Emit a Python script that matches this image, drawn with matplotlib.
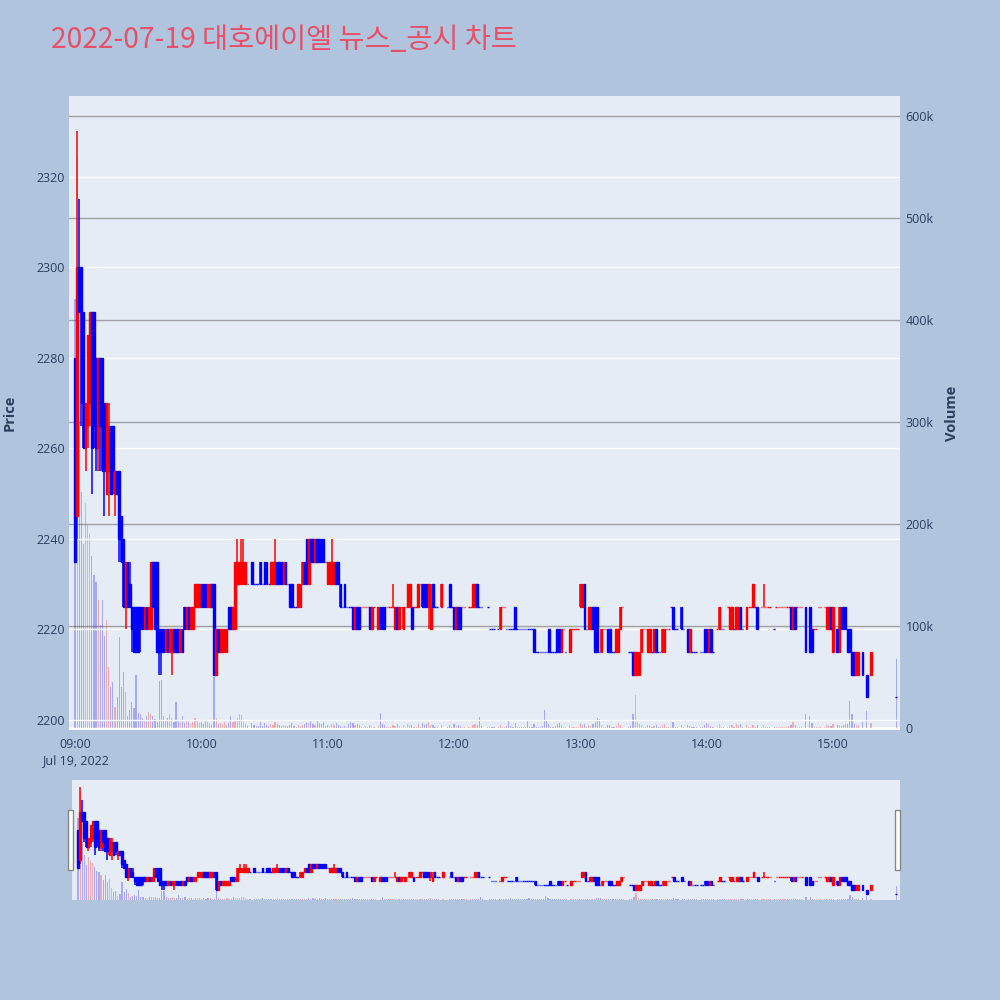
import numpy as np
import pandas as pd
import matplotlib
matplotlib.use("Agg")
import matplotlib.pyplot as plt
import matplotlib.dates as mdates
from matplotlib.patches import Rectangle

n = np.nan

# 1-minute OHLC for 2022-07-19 (09:00 .. 15:18, then the 15:30 closing auction)
opens = [
    2280, 2245, 2300, 2300, 2290, 2260, 2265, 2270, 2290, 2290,
    2280, 2260, 2280, 2280, 2270, 2250, 2255, 2265, 2265, 2250,
    2255, 2255, 2245, 2240, 2225, 2235, 2230, 2225, 2225, 2225,
    2225, 2225, 2225, 2220, 2225, 2220, 2220, 2235, 2235, 2235,
    2220, 2220, 2220, 2215, 2220, 2215, 2215, 2220, 2220, 2220,
    2215, 2220, 2225, 2220, 2225, 2220, 2220, 2225, 2225, 2225,
    2230, 2230, 2230, 2225, 2225, 2230, 2230, 2210, 2220, 2215,
    2215, 2215, 2215, 2225, 2225, 2220, 2220, 2230, 2230, 2230,
    2230, 2230, 2230, n, 2235, 2230, 2230, 2230, 2235, 2230,
    2235, 2235, 2230, 2230, 2230, 2230, 2235, 2235, 2235, 2230,
    2235, 2230, 2230, 2230, 2225, 2225, 2225, 2225, 2230, 2235,
    2240, 2230, 2240, 2240, 2235, 2240, 2240, 2240, 2240, 2235,
    2230, 2230, 2230, 2230, 2235, 2235, 2230, 2225, 2230, 2225,
    2225, 2225, 2225, 2220, 2225, 2225, 2225, 2225, 2225, 2225,
    2225, 2220, 2225, n, 2220, 2225, 2225, 2225, 2225, 2225,
    2225, 2225, 2220, 2225, 2220, 2225, 2220, 2225, 2225, 2225,
    2225, 2225, 2225, 2225, 2230, 2230, 2230, 2230, 2225, 2220,
    2230, 2225, 2225, n, 2225, n, n, 2225, 2230, 2225,
    2225, 2220, 2225, 2225, 2225, 2225, n, 2225, 2225, 2225,
    2225, 2230, 2225, 2225, n, n, 2225, 2220, 2220, 2220,
    n, 2220, 2220, 2225, 2225, 2220, 2220, 2220, 2220, 2225,
    2220, 2220, 2220, 2220, 2220, 2220, 2220, 2220, 2220, 2215,
    2215, 2215, 2215, 2215, 2215, 2220, 2215, 2215, 2215, 2220,
    2220, 2215, 2220, 2215, n, 2215, 2220, 2220, 2220, 2220,
    2225, 2225, 2230, 2220, 2220, 2220, 2225, 2225, 2225, 2215,
    2215, 2220, 2220, 2220, 2220, 2215, 2215, 2215, 2215, 2220,
    2225, n, n, 2215, 2215, 2215, 2210, 2210, 2210, 2215,
    2220, 2220, 2215, 2215, 2215, 2215, 2220, 2215, 2215, 2215,
    2215, 2220, 2220, 2225, 2225, 2220, 2220, n, 2225, 2220,
    n, 2220, 2215, 2215, 2215, 2215, n, 2215, 2215, 2220,
    2220, 2215, 2220, 2215, n, 2220, 2220, 2220, 2220, n,
    2225, 2220, 2220, 2220, 2220, 2220, 2225, 2220, n, 2220,
    2225, 2225, 2225, 2225, 2225, n, 2225, 2225, 2225, 2225,
    2225, n, 2220, 2225, 2225, 2225, 2225, 2225, 2225, 2225,
    2225, 2220, 2225, 2225, 2225, 2225, n, 2225, n, 2225,
    2220, 2220, 2220, 2225, 2225, n, 2225, 2220, 2220, 2225,
    2215, n, 2220, 2215, 2225, 2225, 2225, 2220, 2220, 2215,
    2215, 2210, 2210, n, 2215, n, 2210, n, 2210,
    2205,
]
highs = [
    2280, 2330, 2315, 2300, 2290, 2270, 2285, 2290, 2290, 2290,
    2280, 2280, 2280, 2280, 2270, 2270, 2270, 2265, 2265, 2255,
    2255, 2255, 2245, 2240, 2235, 2235, 2235, 2225, 2225, 2225,
    2225, 2225, 2225, 2225, 2225, 2225, 2235, 2235, 2235, 2235,
    2220, 2220, 2220, 2220, 2220, 2220, 2220, 2220, 2220, 2220,
    2220, 2220, 2225, 2225, 2225, 2225, 2225, 2230, 2230, 2230,
    2230, 2230, 2230, 2230, 2230, 2230, 2230, 2220, 2220, 2220,
    2220, 2220, 2220, 2225, 2225, 2225, 2235, 2240, 2235, 2240,
    2240, 2235, 2230, n, 2235, 2230, 2230, 2230, 2235, 2230,
    2235, 2235, 2230, 2235, 2235, 2240, 2235, 2235, 2235, 2235,
    2235, 2230, 2230, 2230, 2225, 2225, 2230, 2230, 2235, 2235,
    2240, 2240, 2240, 2240, 2240, 2240, 2240, 2240, 2240, 2235,
    2235, 2235, 2240, 2235, 2235, 2235, 2230, 2225, 2230, 2225,
    2225, 2225, 2225, 2225, 2225, 2225, 2225, 2225, 2225, 2225,
    2225, 2225, 2225, n, 2225, 2225, 2225, 2225, 2225, 2225,
    2225, 2230, 2225, 2225, 2225, 2225, 2225, 2225, 2230, 2230,
    2225, 2225, 2225, 2230, 2230, 2230, 2230, 2230, 2230, 2230,
    2230, 2225, 2225, n, 2230, n, n, 2225, 2230, 2225,
    2225, 2225, 2225, 2225, 2225, 2225, n, 2225, 2225, 2230,
    2230, 2230, 2225, 2225, n, n, 2225, 2220, 2220, 2220,
    n, 2220, 2225, 2225, 2225, 2220, 2220, 2220, 2220, 2225,
    2220, 2220, 2220, 2220, 2220, 2220, 2220, 2220, 2220, 2215,
    2215, 2215, 2215, 2215, 2215, 2220, 2215, 2215, 2215, 2220,
    2220, 2220, 2220, 2215, n, 2220, 2220, 2220, 2220, 2220,
    2230, 2230, 2230, 2220, 2225, 2225, 2225, 2225, 2225, 2215,
    2220, 2220, 2220, 2220, 2220, 2215, 2215, 2220, 2220, 2225,
    2225, n, n, 2215, 2215, 2215, 2215, 2215, 2215, 2220,
    2220, 2220, 2220, 2220, 2215, 2220, 2220, 2215, 2215, 2220,
    2220, 2220, 2220, 2225, 2225, 2220, 2220, n, 2225, 2220,
    n, 2220, 2220, 2215, 2215, 2215, n, 2215, 2215, 2220,
    2220, 2220, 2220, 2215, n, 2220, 2225, 2220, 2220, n,
    2225, 2225, 2225, 2220, 2225, 2225, 2225, 2220, n, 2225,
    2225, 2225, 2230, 2225, 2225, n, 2225, 2230, 2225, 2225,
    2225, n, 2220, 2225, 2225, 2225, 2225, 2225, 2225, 2225,
    2225, 2225, 2225, 2225, 2225, 2225, n, 2225, n, 2225,
    2220, 2220, 2220, 2225, 2225, n, 2225, 2225, 2225, 2225,
    2225, n, 2220, 2225, 2225, 2225, 2225, 2220, 2220, 2215,
    2215, 2215, 2215, n, 2215, n, 2210, n, 2215,
    2205,
]
lows = [
    2235, 2240, 2290, 2265, 2260, 2255, 2260, 2265, 2250, 2260,
    2255, 2255, 2255, 2255, 2245, 2250, 2245, 2250, 2250, 2245,
    2250, 2235, 2235, 2225, 2220, 2225, 2225, 2215, 2215, 2215,
    2215, 2215, 2220, 2220, 2220, 2220, 2220, 2225, 2220, 2215,
    2210, 2210, 2215, 2215, 2215, 2215, 2210, 2215, 2215, 2215,
    2215, 2215, 2220, 2220, 2220, 2220, 2220, 2225, 2225, 2225,
    2225, 2225, 2225, 2225, 2225, 2225, 2210, 2210, 2215, 2215,
    2215, 2215, 2215, 2220, 2220, 2220, 2220, 2230, 2230, 2230,
    2230, 2230, 2230, n, 2230, 2230, 2230, 2230, 2230, 2230,
    2230, 2230, 2230, 2230, 2230, 2230, 2230, 2230, 2230, 2230,
    2230, 2230, 2225, 2225, 2225, 2225, 2225, 2225, 2230, 2230,
    2230, 2230, 2235, 2235, 2235, 2235, 2235, 2235, 2235, 2235,
    2230, 2230, 2230, 2230, 2230, 2230, 2225, 2225, 2225, 2225,
    2225, 2225, 2220, 2220, 2220, 2220, 2225, 2225, 2225, 2225,
    2220, 2220, 2225, n, 2220, 2220, 2220, 2220, 2225, 2225,
    2225, 2225, 2220, 2220, 2220, 2225, 2220, 2225, 2225, 2225,
    2220, 2225, 2225, 2225, 2230, 2225, 2225, 2225, 2220, 2220,
    2225, 2225, 2225, n, 2225, n, n, 2225, 2225, 2225,
    2220, 2220, 2220, 2220, 2225, 2225, n, 2225, 2225, 2225,
    2225, 2225, 2225, 2225, n, n, 2225, 2220, 2220, 2220,
    n, 2220, 2220, 2225, 2225, 2220, 2220, 2220, 2220, 2220,
    2220, 2220, 2220, 2220, 2220, 2220, 2220, 2220, 2215, 2215,
    2215, 2215, 2215, 2215, 2215, 2215, 2215, 2215, 2215, 2215,
    2215, 2215, 2220, 2215, n, 2215, 2220, 2220, 2220, 2220,
    2225, 2225, 2220, 2220, 2220, 2220, 2220, 2215, 2215, 2215,
    2215, 2220, 2220, 2215, 2215, 2215, 2215, 2215, 2215, 2220,
    2225, n, n, 2215, 2215, 2210, 2210, 2210, 2210, 2215,
    2220, 2220, 2215, 2215, 2215, 2215, 2215, 2215, 2215, 2215,
    2215, 2220, 2220, 2225, 2220, 2220, 2220, n, 2220, 2220,
    n, 2215, 2215, 2215, 2215, 2215, n, 2215, 2215, 2215,
    2215, 2215, 2215, 2215, n, 2220, 2220, 2220, 2220, n,
    2225, 2220, 2220, 2220, 2220, 2220, 2220, 2220, n, 2220,
    2225, 2225, 2225, 2225, 2220, n, 2225, 2225, 2225, 2225,
    2225, n, 2220, 2225, 2225, 2225, 2225, 2225, 2225, 2225,
    2220, 2220, 2220, 2225, 2225, 2225, n, 2215, n, 2215,
    2215, 2220, 2220, 2225, 2225, n, 2225, 2220, 2220, 2220,
    2215, n, 2215, 2215, 2220, 2220, 2220, 2215, 2215, 2210,
    2210, 2210, 2210, n, 2210, n, 2205, n, 2210,
    2205,
]
closes = [
    2235, 2300, 2290, 2270, 2260, 2270, 2285, 2290, 2260, 2265,
    2260, 2280, 2265, 2255, 2255, 2270, 2265, 2250, 2255, 2255,
    2250, 2240, 2235, 2225, 2235, 2225, 2225, 2220, 2215, 2215,
    2215, 2220, 2220, 2225, 2220, 2225, 2235, 2225, 2220, 2215,
    2215, 2215, 2215, 2220, 2215, 2220, 2220, 2215, 2215, 2215,
    2220, 2215, 2220, 2225, 2220, 2225, 2225, 2230, 2230, 2230,
    2225, 2225, 2225, 2230, 2230, 2225, 2210, 2220, 2215, 2220,
    2220, 2220, 2220, 2220, 2220, 2225, 2235, 2235, 2235, 2235,
    2235, 2235, 2230, n, 2230, 2230, 2230, 2230, 2230, 2230,
    2230, 2230, 2230, 2235, 2235, 2235, 2230, 2230, 2230, 2235,
    2230, 2230, 2225, 2225, 2225, 2225, 2230, 2230, 2235, 2230,
    2230, 2240, 2235, 2235, 2240, 2235, 2235, 2235, 2235, 2235,
    2235, 2235, 2235, 2235, 2230, 2230, 2225, 2225, 2225, 2225,
    2225, 2225, 2220, 2225, 2220, 2220, 2225, 2225, 2225, 2225,
    2220, 2225, 2225, n, 2225, 2220, 2220, 2220, 2225, 2225,
    2225, 2225, 2225, 2220, 2225, 2225, 2225, 2225, 2230, 2230,
    2220, 2225, 2225, 2230, 2230, 2225, 2225, 2225, 2230, 2225,
    2225, 2225, 2225, n, 2230, n, n, 2225, 2225, 2225,
    2220, 2225, 2220, 2220, 2225, 2225, n, 2225, 2225, 2230,
    2230, 2225, 2225, 2225, n, n, 2225, 2220, 2220, 2220,
    n, 2220, 2225, 2225, 2225, 2220, 2220, 2220, 2220, 2220,
    2220, 2220, 2220, 2220, 2220, 2220, 2220, 2220, 2215, 2215,
    2215, 2215, 2215, 2215, 2215, 2215, 2215, 2215, 2215, 2215,
    2215, 2220, 2220, 2215, n, 2220, 2220, 2220, 2220, 2220,
    2230, 2230, 2220, 2220, 2225, 2225, 2220, 2215, 2215, 2215,
    2220, 2220, 2220, 2215, 2215, 2215, 2215, 2220, 2220, 2225,
    2225, n, n, 2215, 2215, 2210, 2215, 2215, 2215, 2220,
    2220, 2220, 2220, 2220, 2215, 2220, 2215, 2215, 2215, 2220,
    2220, 2220, 2220, 2225, 2220, 2220, 2220, n, 2220, 2220,
    n, 2215, 2220, 2215, 2215, 2215, n, 2215, 2215, 2215,
    2215, 2220, 2215, 2215, n, 2220, 2225, 2220, 2220, n,
    2225, 2225, 2225, 2220, 2225, 2225, 2220, 2220, n, 2225,
    2225, 2225, 2230, 2225, 2220, n, 2225, 2225, 2225, 2225,
    2225, n, 2220, 2225, 2225, 2225, 2225, 2225, 2225, 2225,
    2220, 2225, 2220, 2225, 2225, 2225, n, 2215, n, 2215,
    2215, 2220, 2220, 2225, 2225, n, 2225, 2225, 2225, 2220,
    2225, n, 2215, 2225, 2220, 2220, 2220, 2215, 2215, 2210,
    2210, 2215, 2215, n, 2210, n, 2205, n, 2215,
    2205,
]
# traded volume per minute, in thousands of shares
volumes_k = [
    420, 560, 300, 231, 180, 220, 199, 190, 169, 150,
    143, 125, 101, 125, 90, 106, 60, 40, 45, 21,
    30, 89, 40, 55, 35, 12, 18, 25, 20, 52,
    15, 14, 10, 8, 12, 16, 14, 12, 9, 6,
    46, 47, 12, 8, 10, 14, 10, 6, 25, 8,
    6, 12, 5, 8, 6, 4, 6, 10, 7, 5,
    6, 4, 8, 6, 5, 3, 50, 10, 4, 5,
    4, 6, 3, 5, 12, 6, 8, 10, 14, 13,
    6, 4, 2, 0, 5, 3, 2, 2, 6, 2,
    5, 3, 2, 4, 3, 6, 4, 3, 2, 3,
    2, 2, 3, 5, 2, 1, 3, 2, 3, 4,
    6, 5, 7, 4, 3, 8, 5, 4, 6, 2,
    3, 2, 4, 3, 5, 3, 2, 1, 2, 1,
    4, 6, 5, 3, 4, 3, 1, 1, 2, 1,
    3, 2, 1, 0, 2, 15, 4, 3, 1, 1,
    1, 3, 2, 4, 2, 1, 3, 1, 4, 3,
    3, 1, 1, 4, 1, 5, 3, 4, 6, 3,
    3, 1, 1, 0, 3, 0, 0, 1, 3, 1,
    4, 2, 3, 2, 1, 1, 0, 1, 1, 3,
    4, 3, 11, 2, 0, 0, 1, 1, 1, 1,
    0, 1, 3, 1, 1, 2, 8, 2, 1, 5,
    1, 1, 1, 1, 1, 7, 1, 1, 4, 1,
    1, 1, 2, 18, 8, 4, 1, 1, 2, 4,
    5, 3, 1, 1, 0, 3, 1, 1, 1, 1,
    5, 3, 4, 1, 3, 2, 4, 6, 10, 9,
    3, 1, 1, 3, 3, 1, 1, 2, 5, 3,
    1, 0, 0, 1, 2, 14, 32, 6, 4, 3,
    1, 1, 3, 3, 1, 2, 3, 1, 1, 3,
    4, 1, 1, 1, 6, 1, 1, 0, 3, 1,
    0, 3, 2, 1, 1, 1, 0, 1, 1, 3,
    5, 4, 2, 1, 0, 1, 4, 1, 1, 0,
    1, 3, 3, 1, 4, 3, 4, 1, 0, 3,
    1, 1, 3, 1, 3, 0, 1, 3, 1, 1,
    1, 0, 1, 1, 1, 1, 1, 1, 1, 2,
    3, 6, 3, 1, 1, 1, 0, 14, 0, 12,
    5, 1, 1, 1, 1, 0, 1, 3, 3, 2,
    4, 0, 3, 3, 2, 3, 4, 4, 26, 14,
    4, 3, 3, 0, 6, 0, 17, 0, 5,
    68,
]

times = list(pd.date_range("2022-07-19 09:00", "2022-07-19 15:18", freq="min"))
times.append(pd.Timestamp("2022-07-19 15:30"))

title = "2022-07-19 대호에이엘 뉴스_공시 차트"
price_ticks = [2200, 2220, 2240, 2260, 2280, 2300, 2320]
volume_ticks = [0, 100000, 200000, 300000, 400000, 500000, 600000]
volume_labels = ["0", "100k", "200k", "300k", "400k", "500k", "600k"]
hour_ticks = ["09:00", "10:00", "11:00", "12:00", "13:00", "14:00", "15:00"]

UP, DOWN = "#FF0000", "#0000FF"
PAPER, PLOT_BG = "#B0C4DE", "#E5ECF6"
TEXT = "#2A3F5F"

plt.rcParams["font.family"] = ["Open Sans", "Noto Sans CJK KR", "DejaVu Sans"]

o = np.array(opens, float)
h = np.array(highs, float)
l = np.array(lows, float)
c = np.array(closes, float)
v = np.array(volumes_k, float) * 1000
x = mdates.date2num(times)
minute = 1.0 / 1440.0

# candle direction: close vs open, ties follow the previous close
colors = []
prev_c, prev_up = np.nan, True
for oi, ci in zip(o, c):
    if np.isnan(oi):
        colors.append(UP)
        continue
    if ci > oi:
        up = True
    elif ci < oi:
        up = False
    elif not np.isnan(prev_c) and ci != prev_c:
        up = ci > prev_c
    else:
        up = prev_up
    colors.append(UP if up else DOWN)
    prev_c, prev_up = ci, up
colors = np.array(colors)
valid = ~np.isnan(o)

x0 = mdates.date2num(pd.Timestamp("2022-07-19 09:00"))
xlim = (x0 - 2.85 * minute, x0 + 391.8 * minute)
plim = (2197.8, 2337.8)
vlim = (-2000, 619300)


def draw_panel(axv, axp):
    axv.set_facecolor(PLOT_BG)
    axv.bar(x[v > 0], v[v > 0], width=0.55 * minute, color=colors[v > 0],
            alpha=0.28, linewidth=0, zorder=2)
    xs, cs = x[valid], colors[valid]
    axp.vlines(xs, l[valid], h[valid], colors=cs, linewidth=1.1, zorder=3)
    body_lo = np.minimum(o[valid], c[valid])
    body_h = np.abs(c[valid] - o[valid])
    axp.bar(xs, body_h, bottom=body_lo, width=0.75 * minute, color=cs,
            edgecolor=cs, linewidth=1.0, zorder=4)
    axv.set_xlim(*xlim)
    axv.set_ylim(*vlim)
    axp.set_ylim(*plim)
    for ax in (axv, axp):
        for s in ax.spines.values():
            s.set_visible(False)


fig = plt.figure(figsize=(10, 10), dpi=100, facecolor=PAPER)
L, W = 0.069, 0.831

# main chart: volume axis (right) underneath, price axis (left) on top
axv = fig.add_axes([L, 0.270, W, 0.634])
axp = axv.twinx()
draw_panel(axv, axp)

axv.set_yticks(volume_ticks)
axv.set_yticklabels(volume_labels)
axv.yaxis.tick_right()
axv.yaxis.set_label_position("right")
axv.grid(axis="y", color="#A0A0A0", linewidth=1.0, zorder=0)
axv.axhline(0, color="white", linewidth=2, zorder=1)
axv.set_axisbelow(True)

axp.yaxis.tick_left()
axp.yaxis.set_label_position("left")
axp.set_yticks(price_ticks)
axp.grid(axis="y", color="white", linewidth=1.0, zorder=0)
axp.set_axisbelow(True)

tick_pos = [mdates.date2num(pd.Timestamp("2022-07-19 " + t)) for t in hour_ticks]
tick_txt = [hour_ticks[0] + "\nJul 19, 2022"] + hour_ticks[1:]
axv.set_xticks(tick_pos)
axv.set_xticklabels(tick_txt, linespacing=1.25)

for ax in (axv, axp):
    ax.tick_params(length=0, labelsize=9, labelcolor=TEXT)
axv.tick_params(axis="x", pad=6)
axv.tick_params(axis="y", pad=4)
axp.tick_params(axis="y", pad=3)

axp.set_ylabel("Price", fontsize=10.5, fontweight="bold", color=TEXT, labelpad=14)
axv.set_ylabel("Volume", fontsize=10.5, fontweight="bold", color=TEXT, labelpad=8)

# range slider strip
sv = fig.add_axes([L + 0.003, 0.100, W - 0.003, 0.120])
sp = sv.twinx()
draw_panel(sv, sp)
for ax in (sv, sp):
    ax.set_xticks([])
    ax.set_yticks([])
for hx in (0.0705, 0.8975):
    fig.patches.append(Rectangle((hx - 0.0025, 0.130), 0.005, 0.060,
                                 transform=fig.transFigure, facecolor="white",
                                 edgecolor="#888888", linewidth=1.0, zorder=10))

fig.text(0.051, 0.960, title, fontsize=20.4, color="#E8506A",
         family=["Noto Sans CJK KR", "DejaVu Sans"], va="center", ha="left")

fig.savefig("out.png", dpi=100, facecolor=PAPER)
